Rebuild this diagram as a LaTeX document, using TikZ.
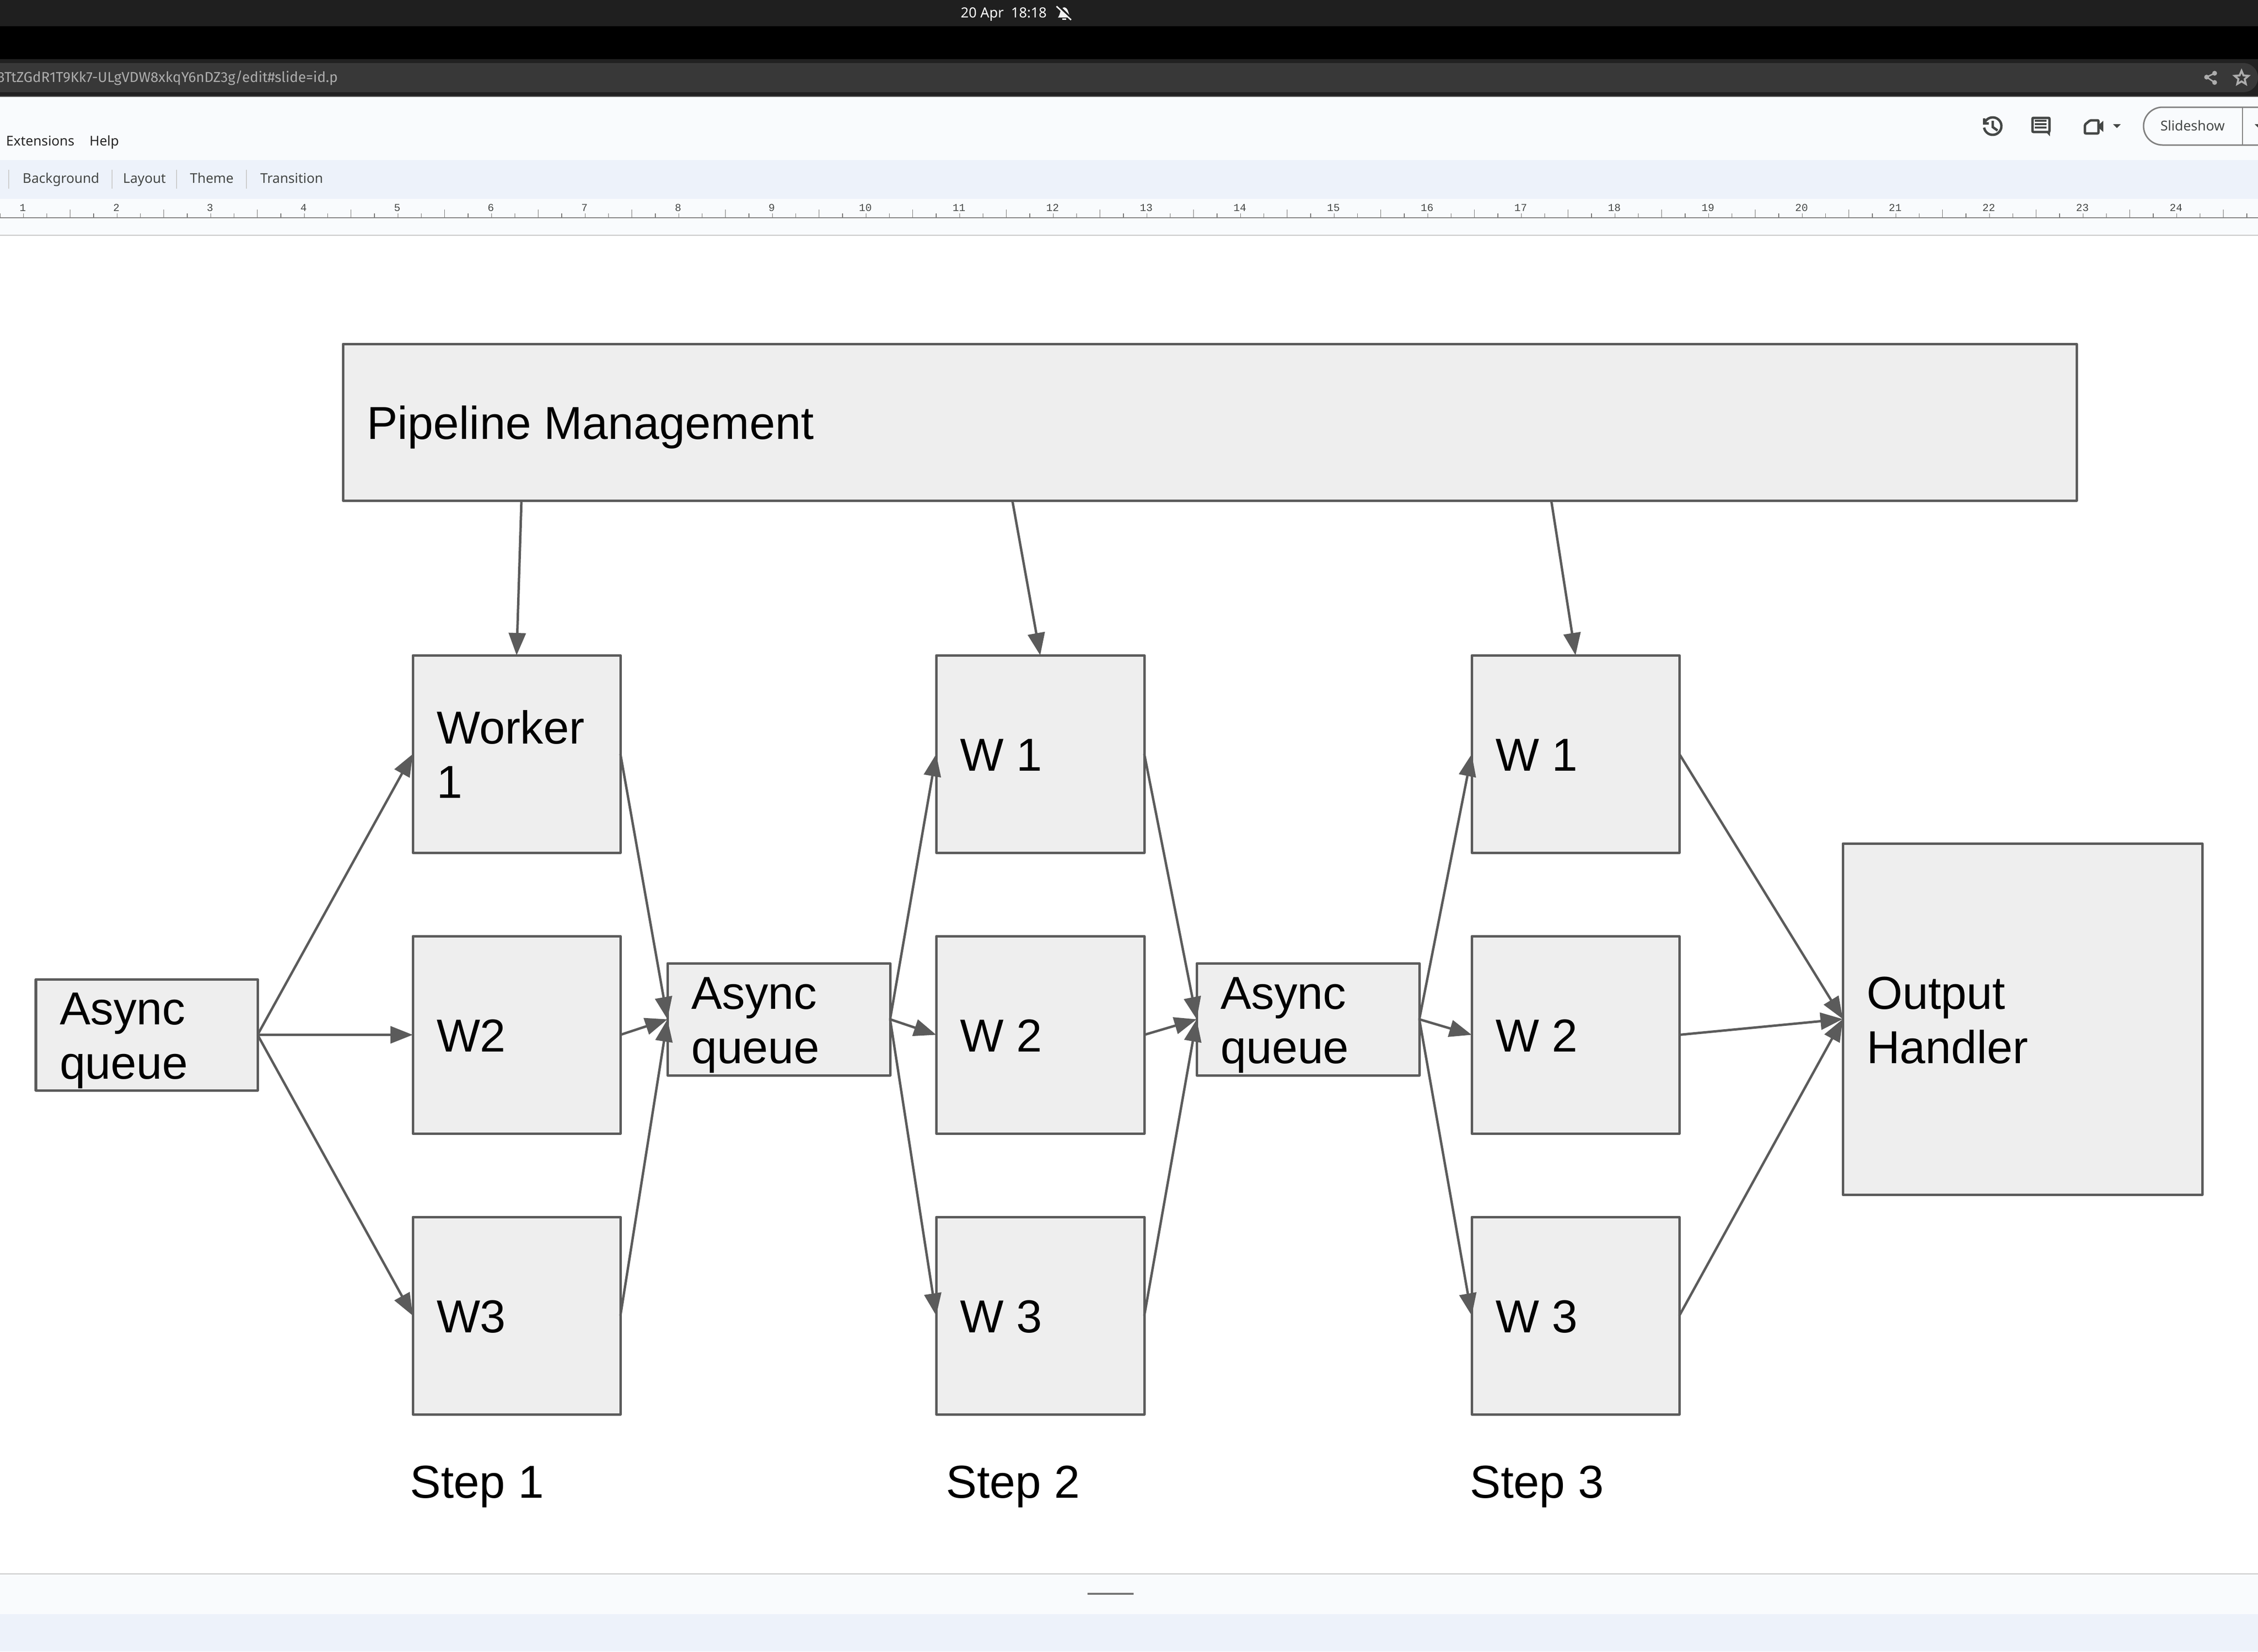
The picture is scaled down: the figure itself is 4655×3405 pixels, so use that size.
\documentclass[tikz,border=0pt]{standalone}
\usepackage{fontspec}
\setmainfont{Liberation Sans}
\newfontfamily\uifont{Noto Sans}
\newfontfamily\urlfont{Fira Sans}
\newfontfamily\rulerfont{Liberation Mono}
\usetikzlibrary{arrows.meta,shapes.geometric}
\definecolor{boxfill}{HTML}{EEEEEE}
\definecolor{boxline}{HTML}{5B5B5B}
\definecolor{chrome}{HTML}{F9FBFD}
\definecolor{toolband}{HTML}{EDF2FA}
\definecolor{iconcol}{HTML}{444746}
\tikzset{
  box/.style 2 args={draw=boxline,fill=boxfill,line width=0.05cm,line join=round,anchor=north west,outer sep=0pt,inner sep=0pt,
    minimum width=#1*0.01cm,minimum height=#2*0.01cm,text width=(#1-98)*0.01cm,align=flush left,
    font=\fontsize{27.1}{31.9}\selectfont,
    execute at begin node={\rule[-5.95pt]{0pt}{31.9pt}},
    execute at end node={\rule[-5.95pt]{0pt}{31.9pt}}},
  link/.style={draw=boxline,line width=0.05cm,-{Triangle[length=0.46cm,width=0.35cm]}},
  steplabel/.style={anchor=base west,inner sep=0pt,font=\fontsize{27.1}{31.9}\selectfont},
  uitext/.style={anchor=base west,inner sep=0pt,text=iconcol,font=\uifont\fontsize{7.9}{9}\selectfont},
  rulernum/.style={inner sep=0pt,text=iconcol,font=\rulerfont\fontsize{6.2}{7}\selectfont},
  sepline/.style={draw=black!20,line width=0.012cm}
}
\begin{document}
\begin{tikzpicture}[x=0.01cm,y=-0.01cm]
\clip (0,0) rectangle (4655,3405);
\fill[white] (0,0) rectangle (4655,3405);
% browser and editor bars
\fill[black!88] (0,0) rectangle (4655,54);
\fill[black] (0,54) rectangle (4655,122);
\fill[black!87] (0,122) rectangle (4655,198);
\fill[black!78,rounded corners=0.3cm] (-60,130) rectangle (4655,190);
\fill[black!62] (0,198) rectangle (4655,200);
\fill[chrome] (0,200) rectangle (4655,484);
\fill[toolband] (0,330) rectangle (4655,410);
\fill[black!50] (0,448) rectangle (4655,450);
\fill[black!22] (0,484) rectangle (4655,486);
\fill[black!22] (0,3244) rectangle (4655,3246);
\fill[chrome] (0,3246) rectangle (4655,3328);
\fill[toolband] (0,3328) rectangle (4655,3405);
\fill[black!55] (2242,3284) rectangle (2337,3288);

\node[anchor=base west,inner sep=0pt,text=white,font=\uifont\fontsize{8.2}{9}\selectfont] (clock) at (1980,36) {20 Apr\ \ 18:18};
\fill[white!95!black] (2181,36) .. controls (2187,30) and (2184,17) .. (2194,15) .. controls (2204,17) and (2201,30) .. (2208,36) -- cycle;
\fill[white!95!black] (2190,38) rectangle (2198,41);
\draw[black!88,line width=0.05cm] (2182,12) -- (2210,40);
\draw[white!95!black,line width=0.03cm] (2178,13) -- (2208,41);
\node[anchor=base east,inner sep=0pt,text=black!32,font=\urlfont\fontsize{8.4}{9}\selectfont] (url) at (697,169) {3TtZGdR1T9Kk7-ULgVDW8xkqY6nDZ3g/edit\#slide=id.p};
\fill[black!32] (4549,159) circle (5);
\fill[black!32] (4565.5,151) circle (5);
\fill[black!32] (4565.5,170) circle (5);
\draw[black!32,line width=0.03cm] (4565.5,151) -- (4549,159) -- (4565.5,170);
\node[star,star points=5,star point ratio=2.2,draw=black!32,line width=0.04cm,minimum size=0.3cm,inner sep=0pt] (bookmark) at (4621,161) {};

\node[uitext,text=black!85] (extensions) at (12,300) {Extensions};
\node[uitext,text=black!85] (help) at (184,300) {Help};
\node[uitext] (background) at (46,377) {Background};
\node[uitext] (layout) at (253,377) {Layout};
\node[uitext] (theme) at (391,377) {Theme};
\node[uitext] (transition) at (536,377) {Transition};
\foreach \x in {18,231,364,508}
  \draw[sepline] (\x,350) -- (\x,389);

% ruler
\foreach \n in {0,...,96} {
  \pgfmathsetmacro{\tickx}{48.25*\n}
  \pgfmathtruncatemacro{\kind}{mod(\n,4)}
  \ifnum\kind=3
    \draw[black!55,line width=0.012cm] (\tickx,432) -- (\tickx,448);
  \else
    \draw[black!55,line width=0.012cm] (\tickx,440) -- (\tickx,448);
  \fi
}
\foreach \n in {1,...,24} {
  \pgfmathsetmacro{\numx}{47+193*(\n-1)}
  \node[rulernum] (r\n) at (\numx,428) {\n};
}

% editor icons
\draw[iconcol,line width=0.05cm] (4108,260) ++(-150:18) arc[start angle=-150,end angle=170,radius=18];
\draw[iconcol,line width=0.05cm] (4090,244) -- (4090,254) -- (4100,254);
\draw[iconcol,line width=0.05cm] (4108,249) -- (4108,262) -- (4118,269);
\draw[iconcol,line width=0.05cm,rounded corners=0.02cm] (4190,243) rectangle (4225,272);
\fill[iconcol] (4226,270) -- (4226,281) -- (4216,270) -- cycle;
\fill[iconcol] (4195,247) rectangle (4219,251);
\fill[iconcol] (4195,254) rectangle (4219,258);
\fill[iconcol] (4195,261) rectangle (4219,265);
\draw[iconcol,line width=0.05cm,rounded corners=0.02cm] (4298,257) -- (4309,248) -- (4326,248) -- (4326,275) -- (4298,275) -- cycle;
\fill[iconcol] (4327,257) -- (4336,249) -- (4336,272) -- (4327,264) -- cycle;
\fill[iconcol] (4356,256) -- (4372,256) -- (4364,264) -- cycle;
\draw[black!50,line width=0.03cm,rounded corners=0.39cm] (4419,221) rectangle (4750,299);
\draw[black!50,line width=0.02cm] (4623,221) -- (4623,299);
\node[anchor=base west,inner sep=0pt,text=iconcol,font=\uifont\fontsize{8}{9}\selectfont] (slideshow) at (4453,269) {Slideshow};
\fill[iconcol] (4648,256) -- (4664,256) -- (4656,264) -- cycle;

% diagram
\node[box={3574}{323}] (pipe) at (707,709) {Pipeline Management};
\coordinate (p1) at (1075,1032);
\coordinate (p2) at (2087,1032);
\coordinate (p3) at (3198,1032);

\node[box={457}{229}] (q1) at (74,2019) {Async\\queue};
\node[box={428}{407}] (w11) at (851,1351) {Worker\\1};
\node[box={428}{407}] (w12) at (851,1930) {W2};
\node[box={428}{407}] (w13) at (851,2509) {W3};
\node[box={459}{231}] (q2) at (1376,1986) {Async\\queue};
\node[box={429}{407}] (w21) at (1930,1351) {W 1};
\node[box={429}{407}] (w22) at (1930,1930) {W 2};
\node[box={429}{407}] (w23) at (1930,2509) {W 3};
\node[box={459}{231}] (q3) at (2467,1986) {Async\\queue};
\node[box={428}{407}] (w31) at (3034,1351) {W 1};
\node[box={428}{407}] (w32) at (3034,1930) {W 2};
\node[box={428}{407}] (w33) at (3034,2509) {W 3};
\node[box={741}{724}] (out) at (3799,1739) {Output\\Handler};

\node[steplabel] (s1) at (845,3088) {Step 1};
\node[steplabel] (s2) at (1950,3088) {Step 2};
\node[steplabel] (s3) at (3030,3088) {Step 3};

\draw[link] (p1) -- (w11.north);
\draw[link] (p2) -- (w21.north);
\draw[link] (p3) -- (w31.north);

\draw[link] (q1.east) -- (w11.west);
\draw[link] (q1.east) -- (w12.west);
\draw[link] (q1.east) -- (w13.west);
\draw[link] (w11.east) -- (q2.west);
\draw[link] (w12.east) -- (q2.west);
\draw[link] (w13.east) -- (q2.west);
\draw[link] (q2.east) -- (w21.west);
\draw[link] (q2.east) -- (w22.west);
\draw[link] (q2.east) -- (w23.west);
\draw[link] (w21.east) -- (q3.west);
\draw[link] (w22.east) -- (q3.west);
\draw[link] (w23.east) -- (q3.west);
\draw[link] (q3.east) -- (w31.west);
\draw[link] (q3.east) -- (w32.west);
\draw[link] (q3.east) -- (w33.west);
\draw[link] (w31.east) -- (out.west);
\draw[link] (w32.east) -- (out.west);
\draw[link] (w33.east) -- (out.west);
\end{tikzpicture}
\end{document}
